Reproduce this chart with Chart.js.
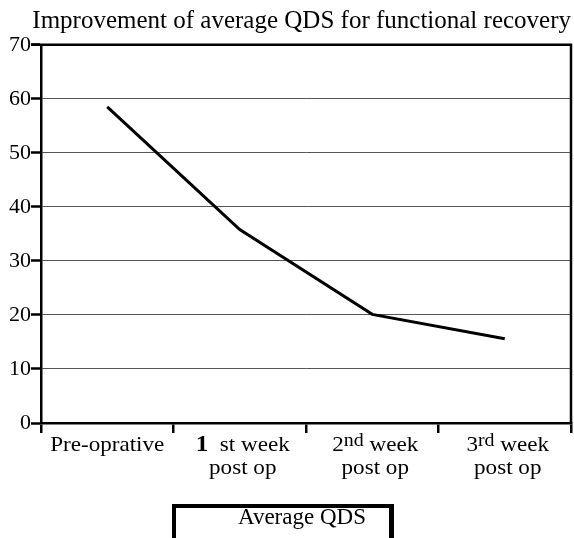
<!DOCTYPE html>
<html>
<head>
<meta charset="utf-8">
<script src="https://cdn.jsdelivr.net/npm/chart.js@4/dist/chart.umd.min.js"></script>
<style>
  body { margin: 0; background: #fff; }
  #wrap { position: relative; width: 574px; height: 538px; overflow: hidden; }
  #legenda {
    position: absolute; left: 172px; top: 504px; width: 213px; height: 60px;
    border: 4px solid #000; border-right-width: 5px;
    font: 23px/23px 'Liberation Serif', serif; color: #000;
  }
  #legenda span { position: absolute; left: 62px; top: -3px; white-space: nowrap; }
</style>
</head>
<body>
<div id="wrap">
  <canvas id="grafico" width="574" height="538"></canvas>
  <div id="legenda"><span id="legendaTexto"></span></div>
</div>
<script>
// ─── Dados ──────────────────────────────────────────
const TITULO      = 'Improvement of average QDS for functional recovery';
const SERIE_NOME  = 'Average QDS';
const CATEGORIAS  = ['Pre-oprative', '1st week post op', '2nd week post op', '3rd week post op'];
const QDS_MEDIO   = [58.5, 35.8, 20.1, 15.6];
const Y_TICKS     = [0, 10, 20, 30, 40, 50, 60, 70];

// rótulos do eixo x (número, sufixo, resto da linha 1, linha 2)
const TICK_NUM    = ['', '1', '2', '3'];
const TICK_SUFIXO = ['', 'st', 'nd', 'rd'];
const TICK_LINHA1 = ['Pre-oprative', 'week', 'week', 'week'];
const TICK_LINHA2 = ['', 'post op', 'post op', 'post op'];

const FONTE = "'Liberation Serif', 'Times New Roman', serif";

document.getElementById('legendaTexto').textContent = SERIE_NOME;

// ─── Plugin: moldura + rótulos do eixo x ────────────
const molduraPlugin = {
  id: 'moldura',
  afterDraw(chart) {
    const { ctx, chartArea: a, scales } = chart;
    ctx.save();
    ctx.strokeStyle = '#000';
    ctx.lineWidth = 2.5;
    ctx.beginPath();
    ctx.moveTo(a.left, a.top);
    ctx.lineTo(a.right, a.top);
    ctx.lineTo(a.right, a.bottom);
    ctx.stroke();
    // tick do 70 à esquerda
    ctx.beginPath();
    ctx.moveTo(a.left - 10, a.top);
    ctx.lineTo(a.left, a.top);
    ctx.stroke();

    ctx.fillStyle = '#000';
    ctx.textBaseline = 'alphabetic';
    const ESTICA = 1.05;
    const y1 = a.bottom + 28;
    const y2 = a.bottom + 51;
    CATEGORIAS.forEach((_, i) => {
      const cx = scales.x.getPixelForValue(i) + (i ? 3 : 0);
      const partes = [];
      if (TICK_NUM[i]) {
        if (i === 1) {
          partes.push({ t: TICK_NUM[i], f: `bold 24px ${FONTE}`, dy: 0 });
          partes.push({ t: '  ' + TICK_SUFIXO[i] + ' ' + TICK_LINHA1[i], f: `22px ${FONTE}`, dy: 0 });
        } else {
          partes.push({ t: TICK_NUM[i], f: `22px ${FONTE}`, dy: 0 });
          partes.push({ t: TICK_SUFIXO[i], f: `19px ${FONTE}`, dy: -5 });
          partes.push({ t: ' ' + TICK_LINHA1[i], f: `22px ${FONTE}`, dy: 0 });
        }
      } else {
        partes.push({ t: TICK_LINHA1[i], f: `22px ${FONTE}`, dy: 0 });
      }
      let total = 0;
      partes.forEach(p => { ctx.font = p.f; p.w = ctx.measureText(p.t).width * ESTICA; total += p.w; });
      let x = cx - total / 2;
      partes.forEach(p => {
        ctx.save();
        ctx.translate(x, y1 + p.dy);
        ctx.scale(ESTICA, 1);
        ctx.font = p.f;
        ctx.textAlign = 'left';
        ctx.fillText(p.t, 0, 0);
        ctx.restore();
        x += p.w;
      });
      if (TICK_LINHA2[i]) {
        ctx.save();
        ctx.translate(cx, y2);
        ctx.scale(ESTICA, 1);
        ctx.font = `22px ${FONTE}`;
        ctx.textAlign = 'center';
        ctx.fillText(TICK_LINHA2[i], 0, 0);
        ctx.restore();
      }
    });
    ctx.restore();
  },
};

// ─── Gráfico ────────────────────────────────────────
new Chart(document.getElementById('grafico'), {
  type: 'line',
  data: {
    labels: CATEGORIAS,
    datasets: [{
      label: SERIE_NOME,
      data: QDS_MEDIO,
      borderColor: '#000',
      borderWidth: 3,
      pointRadius: 0,
      tension: 0,
      fill: false,
    }],
  },
  options: {
    responsive: false,
    animation: false,
    layout: { padding: { top: 7, right: 3, left: 0, bottom: 0 } },
    plugins: {
      legend: { display: false },
      tooltip: { enabled: false },
      title: {
        display: true,
        text: TITULO,
        align: 'end',
        color: '#000',
        font: { family: FONTE, size: 25, weight: 'normal', lineHeight: 1.15 },
        padding: { top: 0, bottom: 9 },
      },
    },
    scales: {
      x: {
        offset: true,
        grid: {
          offset: true,
          drawOnChartArea: false,
          color: '#000',
          lineWidth: 2.5,
          tickLength: 10,
        },
        border: { color: '#000', width: 2.5 },
        ticks: { display: false },
        afterFit: s => { s.height = 115; },
      },
      y: {
        min: 0,
        max: 70,
        afterBuildTicks: s => { s.ticks = Y_TICKS.map(v => ({ value: v })); },
        grid: {
          color: c => (c.tick.value === 0 || c.tick.value === 70) ? 'rgba(0,0,0,0)' : '#555',
          borderDash: [3, 3],
          lineWidth: 1,
          tickColor: '#000',
          tickWidth: 2.5,
          tickLength: 10,
          tickBorderDash: [],
        },
        border: { color: '#000', width: 2.5 },
        ticks: {
          color: '#000',
          font: { family: FONTE, size: 22 },
          padding: 0,
        },
        afterFit: s => { s.width = 41; },
      },
    },
  },
  plugins: [molduraPlugin],
});
</script>
</body>
</html>
